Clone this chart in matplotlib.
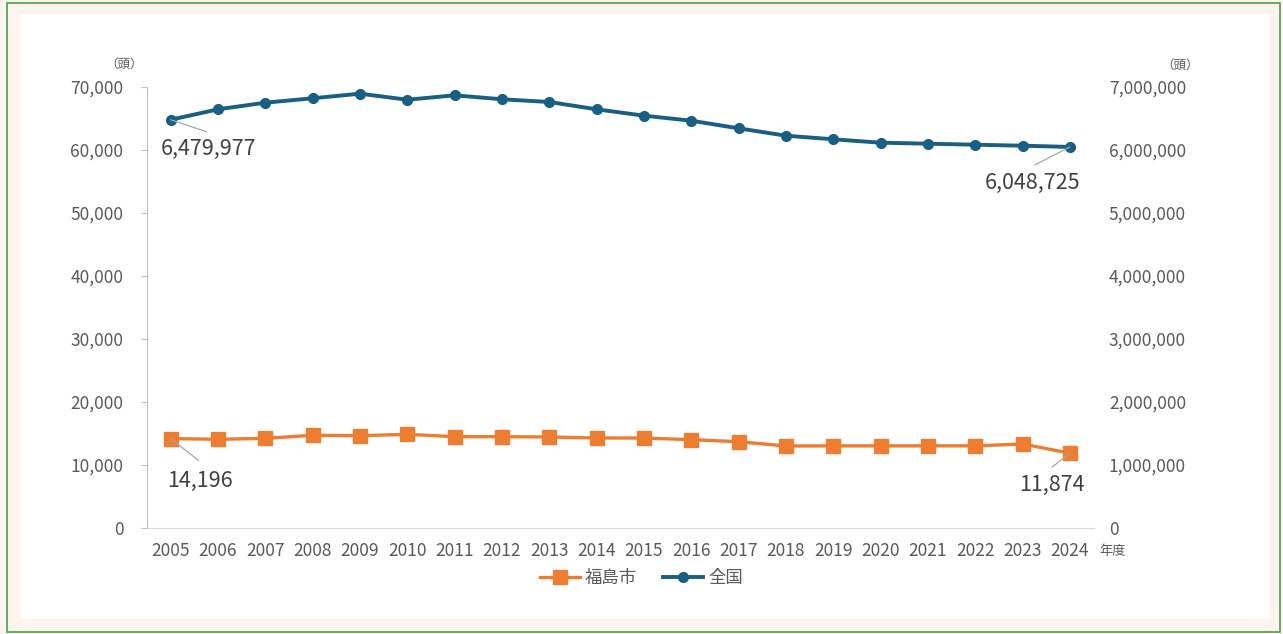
import matplotlib
matplotlib.use("Agg")
import matplotlib.pyplot as plt
from matplotlib.patches import Rectangle
from matplotlib.ticker import FuncFormatter

plt.rcParams["font.family"] = ["Noto Sans CJK JP", "DejaVu Sans"]

years = list(range(2005, 2025))
fukushima = [14196, 14080, 14235, 14714, 14656, 14868, 14497, 14497, 14444, 14286,
             14286, 14021, 13698, 13016, 13040, 13040, 13040, 13040, 13333, 11874]
national = [6479977, 6646000, 6751000, 6821000, 6894000, 6798000, 6868000, 6805000,
            6762000, 6646000, 6545000, 6465000, 6344000, 6227000, 6170000, 6116000,
            6100000, 6084000, 6068000, 6048725]
series_names = ["福島市", "全国"]
left_ticks = list(range(0, 70001, 10000))
right_ticks = list(range(0, 7000001, 1000000))

ORANGE = "#ed7d31"
BLUE = "#195e83"
GRAY = "#595959"


def comma(v, pos=None):
    return f"{int(v):,}"


def main():
    fig = plt.figure(figsize=(12.83, 6.34), dpi=100)
    fig.patch.set_facecolor("#fdf4f0")
    fig.patches.append(Rectangle((21 / 1283, 15 / 634), 1248 / 1283, 605 / 634,
                                 transform=fig.transFigure, facecolor="white",
                                 edgecolor="none", zorder=-10))
    fig.patches.append(Rectangle((7 / 1283, 2 / 634), 1273 / 1283, 629 / 634,
                                 transform=fig.transFigure, facecolor="none",
                                 edgecolor="#4aa04a", linewidth=1.2, zorder=-5))

    ax = fig.add_axes([147 / 1283, 106 / 634, 946.6 / 1283, 441 / 634])
    ax.set_facecolor("none")
    ax2 = ax.twinx()

    x = list(range(len(years)))
    l1, = ax.plot(x, fukushima, color=ORANGE, lw=2.4, marker="s", ms=9.5,
                  label=series_names[0], zorder=3)
    l2, = ax2.plot(x, national, color=BLUE, lw=2.8, marker="o", ms=7,
                   label=series_names[1], zorder=3)

    ax.set_xlim(-0.5, len(years) - 0.5)
    ax.set_ylim(0, 70000)
    ax2.set_ylim(0, 7000000)
    ax.set_xticks(x)
    ax.set_xticklabels([str(y) for y in years])
    ax.set_yticks(left_ticks)
    ax2.set_yticks(right_ticks)
    ax.yaxis.set_major_formatter(FuncFormatter(comma))
    ax2.yaxis.set_major_formatter(FuncFormatter(comma))

    for a in (ax, ax2):
        for s in ("top", "right"):
            a.spines[s].set_visible(False)
    ax2.spines["left"].set_visible(False)
    ax2.spines["bottom"].set_visible(False)
    ax.spines["left"].set_color("#bfbfbf")
    ax.spines["bottom"].set_color("#d9d9d9")

    ax.tick_params(axis="x", length=0, pad=10, labelsize=12.5, labelcolor=GRAY)
    ax.tick_params(axis="y", length=4, color="#bfbfbf", pad=13, labelsize=12.5,
                   labelcolor=GRAY)
    ax2.tick_params(axis="y", length=0, pad=11, labelsize=12.5, labelcolor=GRAY)

    line_kw = dict(arrowstyle="-", color="#a6a6a6", lw=0.9, shrinkA=0, shrinkB=0)
    notes = [
        (ax2, 0, national[0], (36, -12), (38, -29)),
        (ax2, 19, national[-1], (-35, -18), (-37, -36)),
        (ax, 0, fukushima[0], (28, -22), (29, -42)),
        (ax, 19, fukushima[-1], (-18, -14), (-18, -32)),
    ]
    for a, i, v, lend, tpos in notes:
        a.annotate("", xy=(i, v), xytext=lend, textcoords="offset pixels",
                   arrowprops=line_kw, zorder=4)
        a.annotate(comma(v), xy=(i, v), xytext=tpos, textcoords="offset pixels",
                   ha="center", va="center", fontsize=15.5, color="#404040", zorder=4)

    fig.text(124 / 1283, 1 - 64 / 634, "（頭）", ha="center", va="center",
             fontsize=9, color=GRAY)
    fig.text(1180 / 1283, 1 - 65 / 634, "（頭）", ha="center", va="center",
             fontsize=9, color=GRAY)
    fig.text(1113 / 1283, 1 - 552 / 634, "年度", ha="center", va="center",
             fontsize=9.5, color=GRAY)

    fig.legend([l1, l2], series_names, loc="center", bbox_to_anchor=(0.5, 1 - 578 / 634),
               ncol=2, frameon=False, fontsize=12.5, handlelength=2.3,
               columnspacing=1.5, handletextpad=0.3, labelcolor=GRAY)

    fig.savefig("out.png", dpi=100, facecolor=fig.get_facecolor())


if __name__ == "__main__":
    main()
